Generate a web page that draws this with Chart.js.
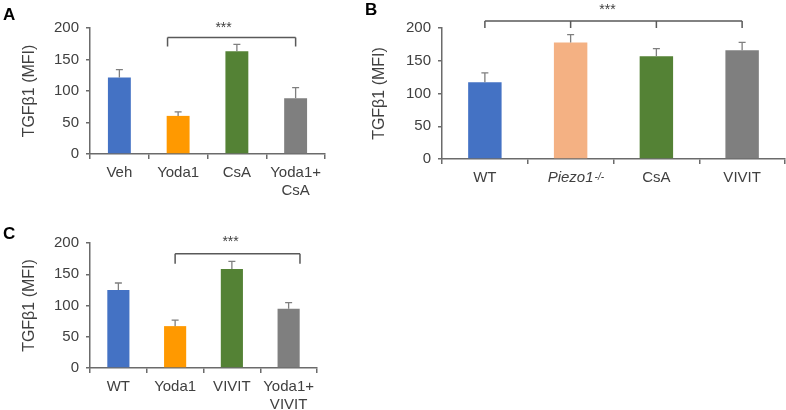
<!DOCTYPE html>
<html>
<head>
<meta charset="utf-8">
<script src="https://cdn.jsdelivr.net/npm/chart.js@4"></script>
<style>
  body { margin: 0; width: 786px; height: 410px; background: #fff; position: relative; overflow: hidden; font-family: 'Liberation Sans', Arial, sans-serif; }
  canvas { position: absolute; }
  .tag { position: absolute; font-weight: bold; font-size: 17px; line-height: 1; color: #000; }
</style>
</head>
<body>
<canvas id="chartA" width="330" height="205" style="left:0;top:0"></canvas>
<canvas id="chartB" width="426" height="205" style="left:360px;top:0"></canvas>
<canvas id="chartC" width="330" height="205" style="left:0;top:205px"></canvas>
<div class="tag" style="left:3px;top:6px">A</div>
<div class="tag" style="left:365px;top:1px">B</div>
<div class="tag" style="left:3px;top:225px">C</div>
<script>
// panel A
const labelsA = ['Veh', 'Yoda1', 'CsA', ['Yoda1+', 'CsA']];
const meansA = [121.5, 60.5, 163, 88.5];
const errorsA = [12.5, 6.5, 11, 17];
const colorsA = ['#4472C4', '#FF9900', '#548235', '#7F7F7F'];

// panel B
const labelsB = ['WT', 'Piezo1', 'CsA', 'VIVIT'];
const supB = ['', '-/-', '', ''];
const meansB = [117, 178, 157, 166];
const errorsB = [14.5, 12, 11.5, 12];
const colorsB = ['#4472C4', '#F4B183', '#548235', '#7F7F7F'];

// panel C
const labelsC = ['WT', 'Yoda1', 'VIVIT', ['Yoda1+', 'VIVIT']];
const meansC = [125, 67, 158.5, 95];
const errorsC = [11, 9.5, 12, 9.5];
const colorsC = ['#4472C4', '#FF9900', '#548235', '#7F7F7F'];

const yTicks = [0, 50, 100, 150, 200];

const font = "'Liberation Sans', Arial, sans-serif";
const axisColor = '#6b6b6b';
const textColor = '#404040';

// error bars, significance bracket and superscripts
const annotate = {
  id: 'annotate',
  afterDatasetsDraw(chart, args, o) {
    const ctx = chart.ctx;
    const xs = chart.scales.x, ys = chart.scales.y;
    const bars = chart.getDatasetMeta(0).data;
    const means = chart.data.datasets[0].data;
    ctx.save();

    ctx.strokeStyle = '#7f7f7f';
    ctx.lineWidth = 1.3;
    o.errors.forEach((e, i) => {
      const x = bars[i].x;
      const y0 = ys.getPixelForValue(means[i]);
      const y1 = ys.getPixelForValue(means[i] + e);
      ctx.beginPath();
      ctx.moveTo(x, y0); ctx.lineTo(x, y1);
      ctx.moveTo(x - 3.5, y1); ctx.lineTo(x + 3.5, y1);
      ctx.stroke();
    });

    const b = o.bracket;
    const by = ys.getPixelForValue(b.level);
    const px = b.at.map(v => xs.getPixelForValue(v));
    const x0 = Math.min(...px), x1 = Math.max(...px);
    ctx.strokeStyle = '#595959';
    ctx.lineWidth = 1.5;
    ctx.beginPath();
    ctx.moveTo(x0, by); ctx.lineTo(x1, by);
    px.forEach(p => { ctx.moveTo(p, by); ctx.lineTo(p, by + b.drop); });
    ctx.stroke();
    ctx.fillStyle = textColor;
    ctx.font = '14px ' + font;
    ctx.textAlign = 'center';
    ctx.textBaseline = 'middle';
    ctx.fillText('***', (x0 + x1) / 2 + b.shift, by - b.gap);

    if (o.sup) {
      o.sup.forEach((s, i) => {
        if (!s) return;
        ctx.font = 'italic 15px ' + font;
        const w = ctx.measureText(chart.data.labels[i]).width;
        ctx.font = 'italic 10px ' + font;
        ctx.textAlign = 'left';
        ctx.textBaseline = 'top';
        ctx.fillText(s, xs.getPixelForValue(i) + w / 2 + 1, xs.top + 13);
      });
    }
    ctx.restore();
  }
};

function panel(id, labels, means, errors, colors, opt) {
  return new Chart(document.getElementById(id), {
    type: 'bar',
    data: {
      labels: labels,
      datasets: [{
        data: means,
        backgroundColor: colors,
        categoryPercentage: 1,
        barPercentage: 0.39
      }]
    },
    options: {
      responsive: false,
      animation: false,
      layout: { padding: opt.pad },
      plugins: {
        legend: { display: false },
        tooltip: { enabled: false },
        annotate: { errors: errors, bracket: opt.bracket, sup: opt.sup }
      },
      scales: {
        x: {
          grid: { drawOnChartArea: false, color: axisColor, tickLength: 5, lineWidth: 1.5, offset: true },
          border: { color: axisColor, width: 1.5 },
          ticks: {
            color: textColor,
            padding: 5,
            maxRotation: 0,
            autoSkip: false,
            font: c => ({ family: font, size: 15, lineHeight: 1.2, style: c.index === opt.italic ? 'italic' : 'normal' })
          },
          afterFit: s => { s.height = opt.xh; s.paddingLeft = 0; s.paddingRight = 0; }
        },
        y: {
          min: 0,
          max: 200,
          afterBuildTicks: s => { s.ticks = yTicks.map(v => ({ value: v })); },
          ticks: { color: textColor, font: { family: font, size: 15 }, padding: 7 },
          grid: { drawOnChartArea: false, color: axisColor, tickLength: 4, lineWidth: 1.5 },
          border: { color: axisColor, width: 1.5 },
          title: {
            display: true,
            text: 'TGFβ1 (MFI)',
            color: textColor,
            font: { family: font, size: 16 },
            padding: { top: opt.tp, bottom: 0 }
          },
          afterFit: s => { s.width = opt.yw; s.paddingTop = 0; s.paddingBottom = 0; }
        }
      }
    },
    plugins: [annotate]
  });
}

panel('chartA', labelsA, meansA, errorsA, colorsA, {
  pad: { left: 0, top: 28, right: 5, bottom: 0 }, yw: 90, xh: 51, tp: 20,
  bracket: { at: [0.82, 3], level: 185, drop: 9, gap: 9, shift: -8 }
});
panel('chartB', labelsB, meansB, errorsB, colorsB, {
  pad: { left: 0, top: 28, right: 1, bottom: 0 }, yw: 82, xh: 46, tp: 10, italic: 1, sup: supB,
  bracket: { at: [0, 1, 2, 3], level: 210.7, drop: 7, gap: 11, shift: -6 }
});
panel('chartC', labelsC, meansC, errorsC, colorsC, {
  pad: { left: 0, top: 38, right: 13, bottom: 0 }, yw: 90, xh: 42, tp: 20,
  bracket: { at: [1, 3.2], level: 183, drop: 10, gap: 11, shift: -7 }
});
</script>
</body>
</html>
